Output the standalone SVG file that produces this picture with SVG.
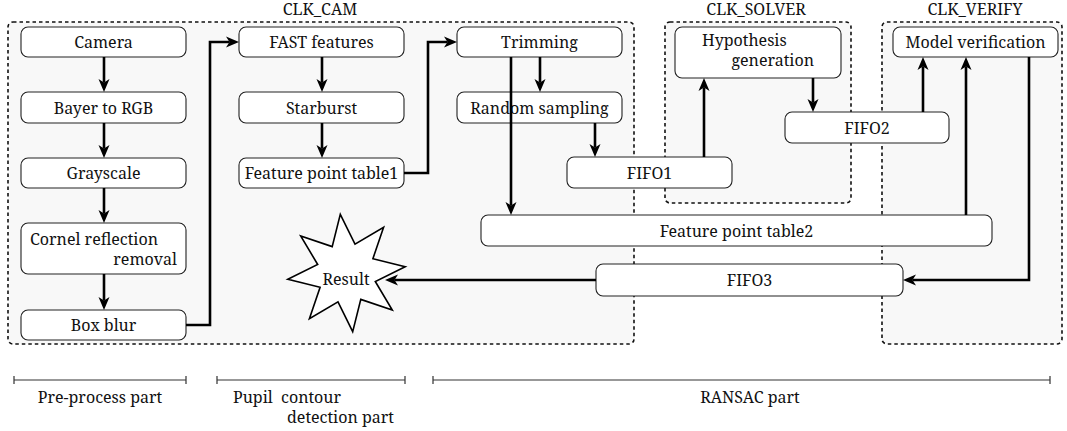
<svg xmlns="http://www.w3.org/2000/svg" width="1067" height="431" viewBox="0 0 1067 431">
<style>
text{font-family:'Noto Serif','Liberation Serif',serif;font-size:16px;fill:#111}
.c{text-anchor:middle}
.e{text-anchor:end}
.grp{fill:#f8f8f8;stroke:#111;stroke-width:1.6;stroke-dasharray:3.5 3}
.box{fill:#fff;stroke:#222;stroke-width:1.1}
.ar{fill:none;stroke:#000;stroke-width:2.6;marker-end:url(#ah)}
.rng{fill:none;stroke:#333;stroke-width:1.2}
</style>
<defs>
<marker id="ah" markerUnits="userSpaceOnUse" markerWidth="14" markerHeight="12" refX="3.5" refY="5.5" orient="auto" overflow="visible">
<path d="M0,0 L13,5.5 L0,11 L3.5,5.5 z" fill="#000"/>
</marker>
</defs>
<rect width="1067" height="431" fill="#fff"/>
<g id="clk_cam"><rect class="grp" x="8" y="22" width="626" height="322" rx="5"/><text class="c" x="320" y="15">CLK_CAM</text></g>
<g id="clk_solver"><rect class="grp" x="665" y="22" width="186" height="181" rx="5"/><text class="c" x="756" y="15">CLK_SOLVER</text></g>
<g id="clk_verify"><rect class="grp" x="882" y="22" width="180" height="322" rx="5"/><text class="c" x="975" y="15">CLK_VERIFY</text></g>

<g id="camera"><rect class="box" x="21" y="27" width="165" height="30" rx="7"/><text class="c" x="103.5" y="48">Camera</text></g>
<g id="bayer"><rect class="box" x="21" y="92" width="165" height="31" rx="7"/><text class="c" x="103.5" y="113.5">Bayer to RGB</text></g>
<g id="grayscale"><rect class="box" x="21" y="158" width="165" height="30" rx="7"/><text class="c" x="103.5" y="179">Grayscale</text></g>
<g id="cornel"><rect class="box" x="21" y="223" width="165" height="51" rx="7"/><text x="30" y="245">Cornel reflection</text><text class="e" x="177" y="265">removal</text></g>
<g id="boxblur"><rect class="box" x="21" y="310" width="165" height="30" rx="7"/><text class="c" x="103.5" y="331">Box blur</text></g>

<g id="fast"><rect class="box" x="239" y="27" width="165" height="30" rx="7"/><text class="c" x="321.5" y="48">FAST features</text></g>
<g id="starburst"><rect class="box" x="239" y="92" width="165" height="31" rx="7"/><text class="c" x="321.5" y="113.5">Starburst</text></g>
<g id="fpt1"><rect class="box" x="239" y="158" width="165" height="30" rx="7"/><text class="c" x="321.5" y="179">Feature point table1</text></g>

<g id="trimming"><rect class="box" x="457" y="27" width="165" height="30" rx="7"/><text class="c" x="539.5" y="48">Trimming</text></g>
<g id="random"><rect class="box" x="457" y="92" width="165" height="31" rx="7"/><text class="c" x="539.5" y="113.5">Random sampling</text></g>
<g id="fifo1"><rect class="box" x="567" y="157" width="165" height="31" rx="7"/><text class="c" x="649.5" y="178.5">FIFO1</text></g>
<g id="hypothesis"><rect class="box" x="675" y="27" width="166" height="51" rx="7"/><text x="702" y="46">Hypothesis</text><text class="e" x="814" y="66">generation</text></g>
<g id="fifo2"><rect class="box" x="785" y="112" width="164" height="31" rx="7"/><text class="c" x="867" y="133.5">FIFO2</text></g>
<g id="model"><rect class="box" x="893" y="27" width="165" height="30" rx="7"/><text class="c" x="975.5" y="48">Model verification</text></g>
<g id="fpt2"><rect class="box" x="481" y="215" width="511" height="31" rx="7"/><text class="c" x="736.5" y="236.5">Feature point table2</text></g>
<g id="fifo3"><rect class="box" x="596" y="264" width="307" height="32" rx="7"/><text class="c" x="749.5" y="285.5">FIFO3</text></g>
<g id="result"><path d="M340.3,214.3 L355,244.2 L383.6,227.2 L372.9,258.7 L405.2,266.8 L375.3,281.5 L392.3,310.1 L360.8,299.4 L352.7,331.7 L338,301.8 L309.4,318.8 L320.1,287.3 L287.8,279.2 L317.7,264.5 L300.7,235.9 L332.2,246.6 Z" fill="#fff" stroke="#000" stroke-width="1.6" stroke-linejoin="miter"/><text class="c" x="346" y="285">Result</text></g>

<g id="connectors">
<path class="ar" d="M104,57 V82.5"/>
<path class="ar" d="M104,123 V148.5"/>
<path class="ar" d="M104,188 V213.5"/>
<path class="ar" d="M104,274 V300.5"/>
<path class="ar" d="M186,325 H210 V42 H229.5"/>
<path class="ar" d="M322,57 V82.5"/>
<path class="ar" d="M322,123 V148.5"/>
<path class="ar" d="M404,173 H428 V42 H447.5"/>
<path class="ar" d="M540,57 V82.5"/>
<path class="ar" d="M511,57 V205.5"/>
<path class="ar" d="M595,123 V147.5"/>
<path class="ar" d="M704,157 V87.5"/>
<path class="ar" d="M813,78 V102.5"/>
<path class="ar" d="M923,112 V66.5"/>
<path class="ar" d="M966,215 V66.5"/>
<path class="ar" d="M1029,57 V280 H912.5"/>
<path class="ar" d="M596,280 H394.5"/>
</g>

<g id="ranges">
<path class="rng" d="M14,380 H186 M14,376 V384 M186,376 V384"/>
<path class="rng" d="M217,380 H405 M217,376 V384 M405,376 V384"/>
<path class="rng" d="M433,380 H1050 M433,376 V384 M1050,376 V384"/>
<text class="c" x="100" y="403">Pre-process part</text>
<text x="233" y="403" xml:space="preserve">Pupil  contour</text>
<text x="287" y="423">detection part</text>
<text class="c" x="750" y="403">RANSAC part</text>
</g>
</svg>
